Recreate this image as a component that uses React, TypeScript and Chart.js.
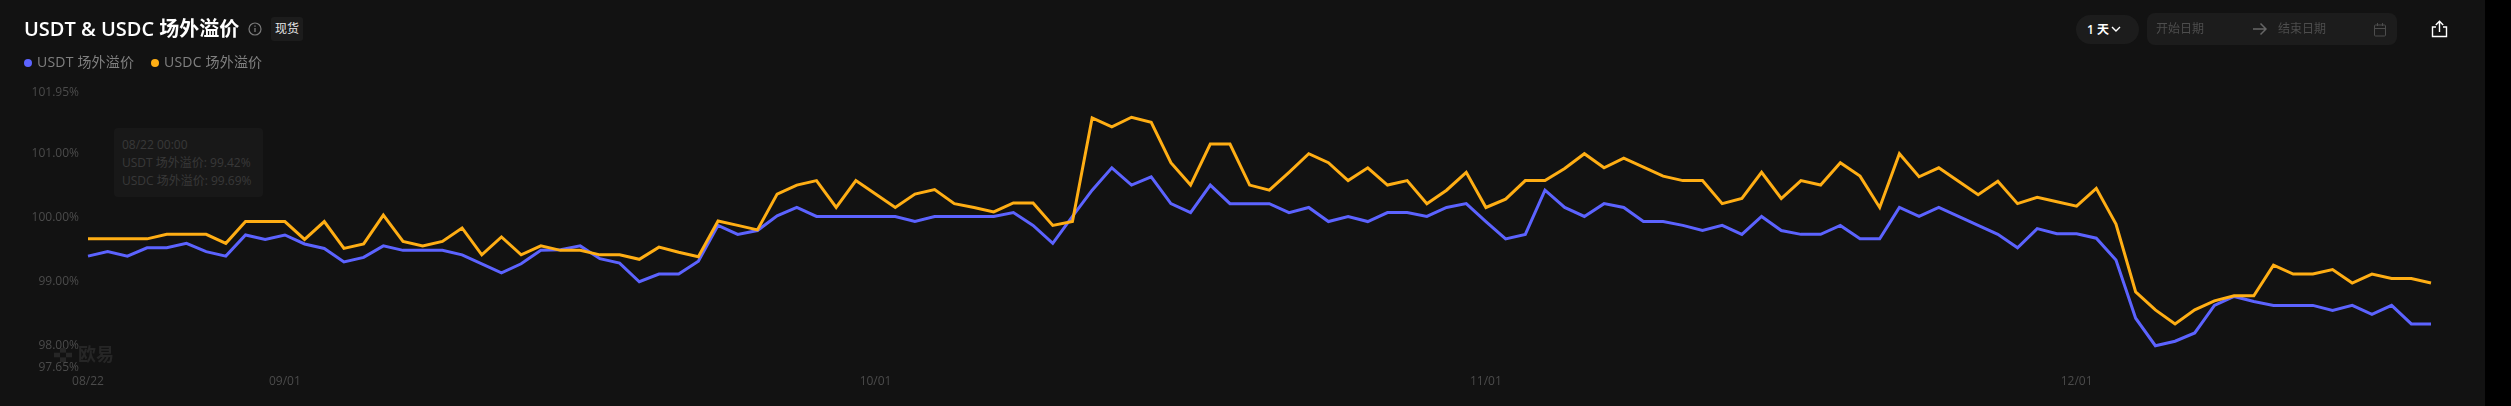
import React, { useEffect, useRef } from "react";
import { Chart, registerables } from "chart.js";

Chart.register(...registerables);

const START_LABEL = "08/22 00:00";
const TITLE = "USDT & USDC 场外溢价";
const USDT_NAME = "USDT 场外溢价";
const USDC_NAME = "USDC 场外溢价";
const yTicks = [97.65, 98, 99, 100, 101, 101.95];

const months = [
  ["08", 22, 31],
  ["09", 1, 30],
  ["10", 1, 31],
  ["11", 1, 30],
  ["12", 1, 19],
] as const;
const dates: string[] = months.flatMap(([m, from, to]) => {
  const out: string[] = [];
  for (let d = from; d <= to; d++) out.push(`${m}/${String(d).padStart(2, "0")}`);
  return out;
});
const shownDates = ["08/22", "09/01", "10/01", "11/01", "12/01"];

const usdt = [
  99.42, 99.49, 99.42, 99.55, 99.55, 99.62, 99.49, 99.42, 99.75, 99.68,
  99.75, 99.61, 99.54, 99.33, 99.4, 99.58, 99.51, 99.51, 99.51, 99.44,
  99.3, 99.16, 99.3, 99.51, 99.52, 99.58, 99.38, 99.31, 99.02, 99.14,
  99.14, 99.34, 99.9, 99.76, 99.82, 100.05, 100.18, 100.04, 100.04, 100.04,
  100.04, 100.04, 99.96, 100.04, 100.04, 100.04, 100.04, 100.1, 99.9, 99.62,
  100.04, 100.45, 100.8, 100.53, 100.66, 100.24, 100.1, 100.53, 100.24, 100.24,
  100.24, 100.1, 100.18, 99.96, 100.04, 99.96, 100.1, 100.1, 100.04, 100.18,
  100.24, 99.96, 99.69, 99.76, 100.45, 100.18, 100.04, 100.24, 100.18, 99.96,
  99.96, 99.9, 99.82, 99.9, 99.76, 100.04, 99.82, 99.76, 99.76, 99.9,
  99.69, 99.69, 100.18, 100.04, 100.18, 100.04, 99.9, 99.76, 99.55, 99.85,
  99.77, 99.77, 99.7, 99.36, 98.45, 98.02, 98.09, 98.22, 98.65, 98.79,
  98.71, 98.65, 98.65, 98.65, 98.57, 98.65, 98.51, 98.65, 98.36, 98.36,
];

const usdc = [
  99.69, 99.69, 99.69, 99.69, 99.76, 99.76, 99.76, 99.62, 99.96, 99.96,
  99.96, 99.68, 99.96, 99.54, 99.61, 100.06, 99.65, 99.58, 99.65, 99.86,
  99.44, 99.72, 99.44, 99.58, 99.51, 99.51, 99.44, 99.44, 99.37, 99.56,
  99.48, 99.41, 99.97, 99.9, 99.83, 100.39, 100.53, 100.6, 100.18, 100.6,
  100.39, 100.18, 100.39, 100.46, 100.24, 100.18, 100.11, 100.25, 100.25, 99.9,
  99.96, 101.58, 101.44, 101.59, 101.51, 100.88, 100.53, 101.17, 101.17, 100.53,
  100.45, 100.73, 101.02, 100.88, 100.6, 100.8, 100.53, 100.6, 100.24, 100.45,
  100.73, 100.18, 100.31, 100.6, 100.6, 100.79, 101.02, 100.8, 100.95, 100.81,
  100.67, 100.6, 100.6, 100.24, 100.32, 100.73, 100.32, 100.6, 100.53, 100.88,
  100.67, 100.18, 101.02, 100.66, 100.8, 100.59, 100.38, 100.59, 100.24, 100.34,
  100.27, 100.2, 100.48, 99.92, 98.86, 98.58, 98.36, 98.58, 98.72, 98.8,
  98.8, 99.28, 99.14, 99.14, 99.21, 99.0, 99.14, 99.07, 99.07, 99.0,
];

const BLUE = "#5c63ff";
const ORANGE = "#ffae14";
const FONT = '"Open Sans", "Noto Sans CJK SC", sans-serif';

const abs = (left: number, top: number, extra: React.CSSProperties = {}): React.CSSProperties => ({
  position: "absolute",
  left,
  top,
  whiteSpace: "nowrap",
  ...extra,
});

export default function App() {
  const ref = useRef<HTMLCanvasElement>(null);

  useEffect(() => {
    document.body.style.margin = "0";
    document.body.style.background = "#000";
    const chart = new Chart(ref.current!, {
      type: "line",
      data: {
        labels: dates,
        datasets: [
          { label: USDT_NAME, data: usdt, borderColor: BLUE, order: 1 },
          { label: USDC_NAME, data: usdc, borderColor: ORANGE, order: 0 },
        ],
      },
      options: {
        animation: false,
        responsive: false,
        layout: { padding: { left: 0, right: 54, top: 94.2, bottom: 0 } },
        elements: {
          point: { radius: 0 },
          line: { borderWidth: 3, tension: 0, borderJoinStyle: "miter" },
        },
        plugins: { legend: { display: false }, tooltip: { enabled: false } },
        scales: {
          x: {
            grid: { display: false, drawTicks: false },
            border: { display: false },
            afterFit: (s: any) => {
              s.height = 36.6;
            },
            ticks: {
              autoSkip: false,
              maxRotation: 0,
              padding: 5,
              color: "#4b4b4b",
              font: { family: FONT, size: 12 },
              callback: (_v: any, i: number) =>
                shownDates.includes(dates[i]) ? dates[i] : "",
            },
          },
          y: {
            min: 97.65,
            max: 101.95,
            grid: { display: false, drawTicks: false },
            border: { display: false },
            afterFit: (s: any) => {
              s.width = 88;
            },
            afterBuildTicks: (s: any) => {
              s.ticks = yTicks.map((value) => ({ value }));
            },
            ticks: {
              padding: 9,
              labelOffset: -1.5,
              color: "#4b4b4b",
              font: { family: FONT, size: 12 },
              callback: (v: any) => `${Number(v).toFixed(2)}%`,
            },
          },
        },
      },
    });
    return () => chart.destroy();
  }, []);

  return (
    <div
      style={{
        position: "relative",
        width: 2485,
        height: 406,
        background: "#121212",
        overflow: "hidden",
        fontFamily: FONT,
      }}
    >
      <canvas ref={ref} width={2485} height={406} style={{ position: "absolute", left: 0, top: 0 }} />

      {/* header */}
      <div style={abs(24, 16, { color: "#fff", fontSize: 20, fontWeight: 600, lineHeight: "26px" })}>{TITLE}</div>
      <svg style={abs(248, 22)} width={14} height={14} viewBox="0 0 14 14" fill="none">
        <circle cx="7" cy="7" r="6" stroke="#7a7a7a" strokeWidth="1.2" />
        <path d="M7 6v4M7 3.6v1.2" stroke="#7a7a7a" strokeWidth="1.3" />
      </svg>
      <div
        style={abs(271, 17, {
          width: 32,
          height: 24,
          background: "#1c1c1c",
          borderRadius: 3,
          color: "#e6e6e6",
          fontSize: 12,
          lineHeight: "24px",
          textAlign: "center",
        })}
      >
        现货
      </div>

      {/* legend */}
      <div style={abs(24, 59, { width: 8, height: 8, borderRadius: 4, background: BLUE })} />
      <div style={abs(37, 52, { color: "#808080", fontSize: 14, lineHeight: "20px", letterSpacing: 0.2 })}>{USDT_NAME}</div>
      <div style={abs(151, 59, { width: 8, height: 8, borderRadius: 4, background: ORANGE })} />
      <div style={abs(164, 52, { color: "#808080", fontSize: 14, lineHeight: "20px", letterSpacing: 0.2 })}>{USDC_NAME}</div>

      {/* faint tooltip */}
      <div
        style={abs(114, 128, {
          width: 149,
          height: 69,
          background: "#181818",
          borderRadius: 4,
          color: "#383838",
          fontSize: 12,
          lineHeight: "18px",
          padding: "8px 8px",
          boxSizing: "border-box",
        })}
      >
        <div>{START_LABEL}</div>
        <div>{`${USDT_NAME}: ${usdt[0].toFixed(2)}%`}</div>
        <div>{`${USDC_NAME}: ${usdc[0].toFixed(2)}%`}</div>
      </div>

      {/* watermark */}
      <svg style={abs(54, 348)} width={18} height={14} viewBox="0 0 18 14" fill="#262626">
        <rect x="6" y="0" width="6" height="4.6" />
        <rect x="0" y="4.7" width="6" height="4.6" />
        <rect x="12" y="4.7" width="6" height="4.6" />
        <rect x="6" y="9.4" width="6" height="4.6" />
      </svg>
      <div style={abs(78, 341, { color: "#262626", fontSize: 18, fontWeight: 700, lineHeight: "26px" })}>欧易</div>

      {/* range controls */}
      <div
        style={abs(2076, 15, {
          width: 63,
          height: 29,
          borderRadius: 15,
          background: "#1c1c1c",
          color: "#fff",
          fontSize: 12,
          fontWeight: 600,
          lineHeight: "29px",
          paddingLeft: 11,
          boxSizing: "border-box",
        })}
      >
        1 天
      </div>
      <svg style={abs(2111, 25)} width={10} height={8} viewBox="0 0 10 8" fill="none">
        <path d="M1 2l4 4 4-4" stroke="#fff" strokeWidth="1.4" />
      </svg>
      <div style={abs(2147, 13, { width: 250, height: 32, borderRadius: 8, background: "#1c1c1c" })} />
      <div style={abs(2156, 13, { color: "#4d4d4d", fontSize: 12, lineHeight: "32px" })}>开始日期</div>
      <svg style={abs(2253, 22)} width={14} height={14} viewBox="0 0 14 14" fill="none">
        <path d="M0 7h13M7.5 1.5L13 7l-5.5 5.5" stroke="#666" strokeWidth="1.5" />
      </svg>
      <div style={abs(2278, 13, { color: "#4d4d4d", fontSize: 12, lineHeight: "32px" })}>结束日期</div>
      <svg style={abs(2373, 22)} width={14} height={15} viewBox="0 0 14 15" fill="none">
        <rect x="1.5" y="3" width="11" height="11" rx="1" stroke="#4d4d4d" />
        <path d="M1.5 6.5h11M4.5 1v3M9.5 1v3" stroke="#4d4d4d" />
      </svg>
      <svg style={abs(2431, 20)} width={17} height={18} viewBox="0 0 17 18" fill="none">
        <path d="M5 7H1.5v9.5h14V7H12" stroke="#fff" strokeWidth="1.4" />
        <path d="M8.5 12V1.5M4.8 5l3.7-3.7L12.2 5" stroke="#fff" strokeWidth="1.4" />
      </svg>
    </div>
  );
}
